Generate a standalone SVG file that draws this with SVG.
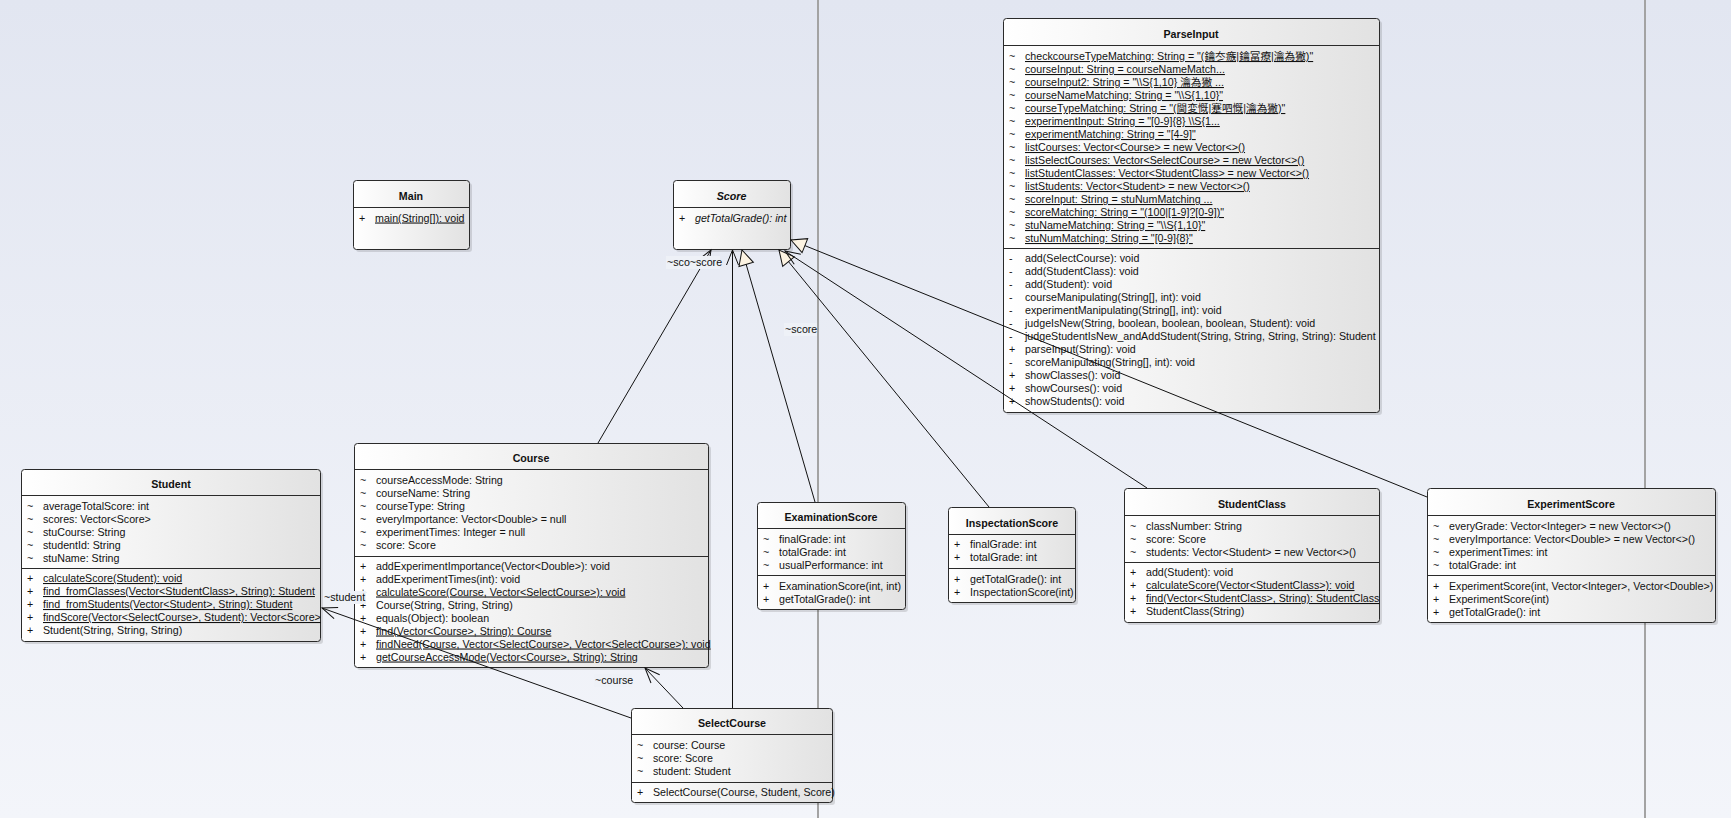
<svg xmlns="http://www.w3.org/2000/svg" width="1731" height="818" viewBox="0 0 1731 818">
<defs>
<linearGradient id="bg" x1="0" y1="0" x2="0" y2="1">
<stop offset="0" stop-color="#e2e6f1"/>
<stop offset="1" stop-color="#f3f5fa"/>
</linearGradient>
<linearGradient id="boxgrad" x1="0" y1="0" x2="1" y2="0">
<stop offset="0" stop-color="#ffffff"/>
<stop offset="1" stop-color="#e2e2e2"/>
</linearGradient>
<marker id="open" markerUnits="userSpaceOnUse" orient="auto" viewBox="-17 -9 19 18" refX="0" refY="0" markerWidth="19" markerHeight="18" overflow="visible">
<path d="M-15,-6 L0,0 L-15,6" fill="none" stroke="#111" stroke-width="1"/>
</marker>
<marker id="tri" markerUnits="userSpaceOnUse" orient="auto" viewBox="-17 -9 19 18" refX="0" refY="0" markerWidth="19" markerHeight="18" overflow="visible">
<path d="M-15,-7.5 L0,0 L-15,7.5 Z" fill="#fcf3e2" stroke="#111" stroke-width="1"/>
</marker>
</defs>
<style>
.box { fill: url(#boxgrad); stroke: #2a2a2a; stroke-width: 1; }
.shadow { fill: #000000; opacity: 0.12; }
.sep { stroke: #2a2a2a; stroke-width: 1; }
.vline { stroke: #a3a3a3; stroke-width: 2; }
.conn { stroke: #111; stroke-width: 1; fill: none; }
.open { marker-end: url(#open); }
.tri { marker-end: url(#tri); }
text { font-family: "Liberation Sans", "Noto Sans CJK SC", Arial, sans-serif; font-size: 10.67px; fill: #111; }
.t { font-weight: bold; text-anchor: middle; }
.u { text-decoration: underline; }
.i { font-style: italic; }
.lblbg { fill: #eef1f7; }
</style>
<rect x="0" y="0" width="1731" height="818" fill="url(#bg)"/>
<line class="vline" x1="818" y1="0" x2="818" y2="818"/>
<line class="vline" x1="1645" y1="0" x2="1645" y2="818"/>

<g id="node-ParseInput">
<rect class="shadow" x="1006" y="21" width="376" height="394" rx="3"/>
<rect class="box" x="1003.5" y="18.5" width="376" height="394" rx="3"/>
<line class="sep" x1="1003.5" y1="45.5" x2="1379.5" y2="45.5"/>
<line class="sep" x1="1003.5" y1="248.5" x2="1379.5" y2="248.5"/>
<text class="t" x="1191" y="37.5">ParseInput</text>
<text x="1009" y="60">~</text><text class="u" x="1025" y="60">checkcourseTypeMatching: String = "(鑰冭瘯|鑰冨療|瀹為獙)"</text>
<text x="1009" y="73">~</text><text class="u" x="1025" y="73">courseInput: String = courseNameMatch...</text>
<text x="1009" y="86">~</text><text class="u" x="1025" y="86">courseInput2: String = "\\S{1,10} 瀹為獙 ...</text>
<text x="1009" y="99">~</text><text class="u" x="1025" y="99">courseNameMatching: String = "\\S{1,10}"</text>
<text x="1009" y="112">~</text><text class="u" x="1025" y="112">courseTypeMatching: String = "(閫変慨|蹇呬慨|瀹為獙)"</text>
<text x="1009" y="125">~</text><text class="u" x="1025" y="125">experimentInput: String = "[0-9]{8} \\S{1...</text>
<text x="1009" y="138">~</text><text class="u" x="1025" y="138">experimentMatching: String = "[4-9]"</text>
<text x="1009" y="151">~</text><text class="u" x="1025" y="151">listCourses: Vector&lt;Course&gt; = new Vector&lt;&gt;()</text>
<text x="1009" y="164">~</text><text class="u" x="1025" y="164">listSelectCourses: Vector&lt;SelectCourse&gt; = new Vector&lt;&gt;()</text>
<text x="1009" y="177">~</text><text class="u" x="1025" y="177">listStudentClasses: Vector&lt;StudentClass&gt; = new Vector&lt;&gt;()</text>
<text x="1009" y="190">~</text><text class="u" x="1025" y="190">listStudents: Vector&lt;Student&gt; = new Vector&lt;&gt;()</text>
<text x="1009" y="203">~</text><text class="u" x="1025" y="203">scoreInput: String = stuNumMatching ...</text>
<text x="1009" y="216">~</text><text class="u" x="1025" y="216">scoreMatching: String = "(100|[1-9]?[0-9])"</text>
<text x="1009" y="229">~</text><text class="u" x="1025" y="229">stuNameMatching: String = "\\S{1,10}"</text>
<text x="1009" y="242">~</text><text class="u" x="1025" y="242">stuNumMatching: String = "[0-9]{8}"</text>
<text x="1009" y="262">-</text><text x="1025" y="262">add(SelectCourse): void</text>
<text x="1009" y="275">-</text><text x="1025" y="275">add(StudentClass): void</text>
<text x="1009" y="288">-</text><text x="1025" y="288">add(Student): void</text>
<text x="1009" y="301">-</text><text x="1025" y="301">courseManipulating(String[], int): void</text>
<text x="1009" y="314">-</text><text x="1025" y="314">experimentManipulating(String[], int): void</text>
<text x="1009" y="327">-</text><text x="1025" y="327">judgeIsNew(String, boolean, boolean, boolean, Student): void</text>
<text x="1009" y="340">-</text><text x="1025" y="340">judgeStudentIsNew_andAddStudent(String, String, String, String): Student</text>
<text x="1009" y="353">+</text><text x="1025" y="353">parseInput(String): void</text>
<text x="1009" y="366">-</text><text x="1025" y="366">scoreManipulating(String[], int): void</text>
<text x="1009" y="379">+</text><text x="1025" y="379">showClasses(): void</text>
<text x="1009" y="392">+</text><text x="1025" y="392">showCourses(): void</text>
<text x="1009" y="405">+</text><text x="1025" y="405">showStudents(): void</text>
</g>

<g id="node-Main">
<rect class="shadow" x="356" y="183" width="116" height="69" rx="3"/>
<rect class="box" x="353.5" y="180.5" width="116" height="69" rx="3"/>
<line class="sep" x1="353.5" y1="207.5" x2="469.5" y2="207.5"/>
<text class="t" x="411" y="199.5">Main</text>
<text x="359" y="221.5">+</text><text class="u" x="375" y="221.5">main(String[]): void</text>
</g>

<g id="node-Score">
<rect class="shadow" x="676" y="183" width="117" height="69" rx="3"/>
<rect class="box" x="673.5" y="180.5" width="117" height="69" rx="3"/>
<line class="sep" x1="673.5" y1="207.5" x2="790.5" y2="207.5"/>
<text class="t i" x="731.5" y="199.5">Score</text>
<text x="679" y="221.5">+</text><text class="i" x="695" y="221.5">getTotalGrade(): int</text>
</g>

<g id="node-Student">
<rect class="shadow" x="24" y="472" width="299" height="172" rx="3"/>
<rect class="box" x="21.5" y="469.5" width="299" height="172" rx="3"/>
<line class="sep" x1="21.5" y1="495.5" x2="320.5" y2="495.5"/>
<line class="sep" x1="21.5" y1="568.5" x2="320.5" y2="568.5"/>
<text class="t" x="171" y="487.5">Student</text>
<text x="27" y="509.5">~</text><text x="43" y="509.5">averageTotalScore: int</text>
<text x="27" y="522.5">~</text><text x="43" y="522.5">scores: Vector&lt;Score&gt;</text>
<text x="27" y="535.5">~</text><text x="43" y="535.5">stuCourse: String</text>
<text x="27" y="548.5">~</text><text x="43" y="548.5">studentId: String</text>
<text x="27" y="561.5">~</text><text x="43" y="561.5">stuName: String</text>
<text x="27" y="582">+</text><text class="u" x="43" y="582">calculateScore(Student): void</text>
<text x="27" y="595">+</text><text class="u" x="43" y="595">find_fromClasses(Vector&lt;StudentClass&gt;, String): Student</text>
<text x="27" y="608">+</text><text class="u" x="43" y="608">find_fromStudents(Vector&lt;Student&gt;, String): Student</text>
<text x="27" y="621">+</text><text class="u" x="43" y="621">findScore(Vector&lt;SelectCourse&gt;, Student): Vector&lt;Score&gt;</text>
<text x="27" y="634">+</text><text x="43" y="634">Student(String, String, String)</text>
</g>

<g id="node-Course">
<rect class="shadow" x="357" y="446" width="354" height="224" rx="3"/>
<rect class="box" x="354.5" y="443.5" width="354" height="224" rx="3"/>
<line class="sep" x1="354.5" y1="469.5" x2="708.5" y2="469.5"/>
<line class="sep" x1="354.5" y1="556.5" x2="708.5" y2="556.5"/>
<text class="t" x="531" y="461.5">Course</text>
<text x="360" y="484">~</text><text x="376" y="484">courseAccessMode: String</text>
<text x="360" y="497">~</text><text x="376" y="497">courseName: String</text>
<text x="360" y="510">~</text><text x="376" y="510">courseType: String</text>
<text x="360" y="523">~</text><text x="376" y="523">everyImportance: Vector&lt;Double&gt; = null</text>
<text x="360" y="536">~</text><text x="376" y="536">experimentTimes: Integer = null</text>
<text x="360" y="549">~</text><text x="376" y="549">score: Score</text>
<text x="360" y="569.5">+</text><text x="376" y="569.5">addExperimentImportance(Vector&lt;Double&gt;): void</text>
<text x="360" y="582.5">+</text><text x="376" y="582.5">addExperimentTimes(int): void</text>
<text x="360" y="595.5">+</text><text class="u" x="376" y="595.5">calculateScore(Course, Vector&lt;SelectCourse&gt;): void</text>
<text x="360" y="608.5">+</text><text x="376" y="608.5">Course(String, String, String)</text>
<text x="360" y="621.5">+</text><text x="376" y="621.5">equals(Object): boolean</text>
<text x="360" y="634.5">+</text><text class="u" x="376" y="634.5">find(Vector&lt;Course&gt;, String): Course</text>
<text x="360" y="647.5">+</text><text class="u" x="376" y="647.5">findNeed(Course, Vector&lt;SelectCourse&gt;, Vector&lt;SelectCourse&gt;): void</text>
<text x="360" y="660.5">+</text><text class="u" x="376" y="660.5">getCourseAccessMode(Vector&lt;Course&gt;, String): String</text>
</g>

<g id="node-ExaminationScore">
<rect class="shadow" x="760" y="505" width="148" height="107" rx="3"/>
<rect class="box" x="757.5" y="502.5" width="148" height="107" rx="3"/>
<line class="sep" x1="757.5" y1="528.5" x2="905.5" y2="528.5"/>
<line class="sep" x1="757.5" y1="575.5" x2="905.5" y2="575.5"/>
<text class="t" x="831" y="520.5">ExaminationScore</text>
<text x="763" y="542.5">~</text><text x="779" y="542.5">finalGrade: int</text>
<text x="763" y="555.5">~</text><text x="779" y="555.5">totalGrade: int</text>
<text x="763" y="568.5">~</text><text x="779" y="568.5">usualPerformance: int</text>
<text x="763" y="590">+</text><text x="779" y="590">ExaminationScore(int, int)</text>
<text x="763" y="603">+</text><text x="779" y="603">getTotalGrade(): int</text>
</g>

<g id="node-InspectationScore">
<rect class="shadow" x="951" y="510" width="127" height="95" rx="3"/>
<rect class="box" x="948.5" y="507.5" width="127" height="95" rx="3"/>
<line class="sep" x1="948.5" y1="534.5" x2="1075.5" y2="534.5"/>
<line class="sep" x1="948.5" y1="568.5" x2="1075.5" y2="568.5"/>
<text class="t" x="1012" y="527">InspectationScore</text>
<text x="954" y="548">+</text><text x="970" y="548">finalGrade: int</text>
<text x="954" y="561">+</text><text x="970" y="561">totalGrade: int</text>
<text x="954" y="582.5">+</text><text x="970" y="582.5">getTotalGrade(): int</text>
<text x="954" y="595.5">+</text><text x="970" y="595.5">InspectationScore(int)</text>
</g>

<g id="node-StudentClass">
<rect class="shadow" x="1127" y="491" width="255" height="134" rx="3"/>
<rect class="box" x="1124.5" y="488.5" width="255" height="134" rx="3"/>
<line class="sep" x1="1124.5" y1="515.5" x2="1379.5" y2="515.5"/>
<line class="sep" x1="1124.5" y1="562.5" x2="1379.5" y2="562.5"/>
<text class="t" x="1252" y="508">StudentClass</text>
<text x="1130" y="530">~</text><text x="1146" y="530">classNumber: String</text>
<text x="1130" y="543">~</text><text x="1146" y="543">score: Score</text>
<text x="1130" y="556">~</text><text x="1146" y="556">students: Vector&lt;Student&gt; = new Vector&lt;&gt;()</text>
<text x="1130" y="576">+</text><text x="1146" y="576">add(Student): void</text>
<text x="1130" y="589">+</text><text class="u" x="1146" y="589">calculateScore(Vector&lt;StudentClass&gt;): void</text>
<text x="1130" y="602">+</text><text class="u" x="1146" y="602">find(Vector&lt;StudentClass&gt;, String): StudentClass</text>
<text x="1130" y="615">+</text><text x="1146" y="615">StudentClass(String)</text>
</g>

<g id="node-ExperimentScore">
<rect class="shadow" x="1430" y="491" width="288" height="134" rx="3"/>
<rect class="box" x="1427.5" y="488.5" width="288" height="134" rx="3"/>
<line class="sep" x1="1427.5" y1="515.5" x2="1715.5" y2="515.5"/>
<line class="sep" x1="1427.5" y1="575.5" x2="1715.5" y2="575.5"/>
<text class="t" x="1571" y="508">ExperimentScore</text>
<text x="1433" y="529.5">~</text><text x="1449" y="529.5">everyGrade: Vector&lt;Integer&gt; = new Vector&lt;&gt;()</text>
<text x="1433" y="542.5">~</text><text x="1449" y="542.5">everyImportance: Vector&lt;Double&gt; = new Vector&lt;&gt;()</text>
<text x="1433" y="555.5">~</text><text x="1449" y="555.5">experimentTimes: int</text>
<text x="1433" y="568.5">~</text><text x="1449" y="568.5">totalGrade: int</text>
<text x="1433" y="590">+</text><text x="1449" y="590">ExperimentScore(int, Vector&lt;Integer&gt;, Vector&lt;Double&gt;)</text>
<text x="1433" y="603">+</text><text x="1449" y="603">ExperimentScore(int)</text>
<text x="1433" y="616">+</text><text x="1449" y="616">getTotalGrade(): int</text>
</g>

<g id="node-SelectCourse">
<rect class="shadow" x="634" y="711" width="201" height="94" rx="3"/>
<rect class="box" x="631.5" y="708.5" width="201" height="94" rx="3"/>
<line class="sep" x1="631.5" y1="734.5" x2="832.5" y2="734.5"/>
<line class="sep" x1="631.5" y1="782.5" x2="832.5" y2="782.5"/>
<text class="t" x="732" y="726.5">SelectCourse</text>
<text x="637" y="749">~</text><text x="653" y="749">course: Course</text>
<text x="637" y="762">~</text><text x="653" y="762">score: Score</text>
<text x="637" y="775">~</text><text x="653" y="775">student: Student</text>
<text x="637" y="795.5">+</text><text x="653" y="795.5">SelectCourse(Course, Student, Score)</text>
</g>

<g id="connectors">
<line class="conn open" x1="598" y1="443" x2="711" y2="250"/>
<line class="conn open" x1="732.5" y1="708" x2="732.5" y2="250"/>
<line class="conn tri" x1="815" y1="502" x2="742" y2="250"/>
<line class="conn tri" x1="989" y1="507" x2="779" y2="250"/>
<line class="conn open" x1="1147" y1="488" x2="785" y2="251"/>
<line class="conn tri" x1="1427" y1="497" x2="791" y2="240"/>
<line class="conn open" x1="683" y1="708" x2="645" y2="668"/>
<line class="conn open" x1="631" y1="718" x2="322" y2="608"/>
<rect class="lblbg" x="666" y="256" width="54" height="13"/>
<text x="667" y="266">~sco~score</text>
<rect class="lblbg" x="784" y="323" width="33" height="13"/>
<text x="785" y="333">~score</text>
<rect class="lblbg" x="323" y="591" width="43" height="13"/>
<text x="324" y="601">~student</text>
<rect class="lblbg" x="594" y="674" width="38" height="13"/>
<text x="595" y="684">~course</text>
</g>
</svg>
